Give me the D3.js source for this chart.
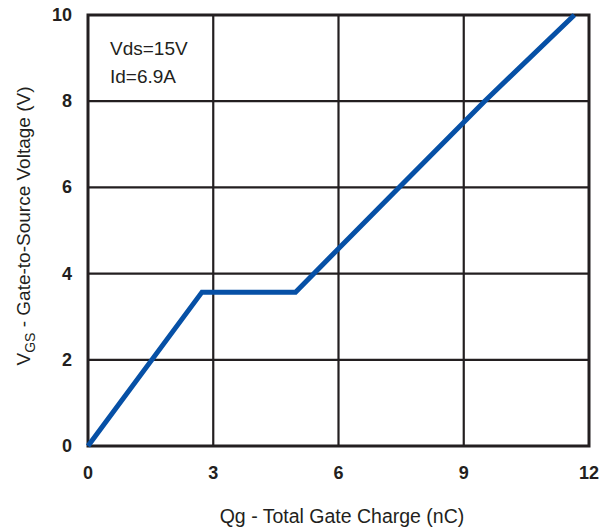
<!DOCTYPE html>
<html lang="en">
<head>
<meta charset="utf-8">
<script src="https://d3js.org/d3.v7.min.js"></script>
<style>
  body { margin: 0; background: #fff; }
  text { font-family: "Liberation Sans", Arial, sans-serif; fill: #231f20; }
</style>
</head>
<body>
<script>
// gate charge curve (nC, V)
var qg = [0, 2.73, 4.97, 7.45, 9.5, 11.65];
var vgs = [0, 3.57, 3.57, 6, 8, 10];
var xTicks = [0, 3, 6, 9, 12];
var yTicks = [0, 2, 4, 6, 8, 10];
var notes = ["Vds=15V", "Id=6.9A"];

var width = 603, height = 532;
var margin = { left: 88, right: 14, top: 15, bottom: 86 };

var svg = d3.select("body").append("svg")
    .attr("width", width)
    .attr("height", height);

var x = d3.scaleLinear().domain([0, 12]).range([margin.left, width - margin.right]);
var y = d3.scaleLinear().domain([0, 10]).range([height - margin.bottom, margin.top]);

// grid
svg.append("g").selectAll("line")
    .data(xTicks.slice(1, -1))
    .enter().append("line")
    .attr("x1", function (d) { return x(d); })
    .attr("x2", function (d) { return x(d); })
    .attr("y1", y(0)).attr("y2", y(10))
    .attr("stroke", "#231f20").attr("stroke-width", 2.2);

svg.append("g").selectAll("line")
    .data(yTicks.slice(1, -1))
    .enter().append("line")
    .attr("y1", function (d) { return y(d); })
    .attr("y2", function (d) { return y(d); })
    .attr("x1", x(0)).attr("x2", x(12))
    .attr("stroke", "#231f20").attr("stroke-width", 2.2);

// frame
svg.append("rect")
    .attr("x", x(0)).attr("y", y(10))
    .attr("width", x(12) - x(0)).attr("height", y(0) - y(10))
    .attr("fill", "none").attr("stroke", "#231f20").attr("stroke-width", 3);

// curve
var pts = qg.map(function (d, i) { return [d, vgs[i]]; });
svg.append("path")
    .datum(pts)
    .attr("fill", "none")
    .attr("stroke", "#0650a6")
    .attr("stroke-width", 5)
    .attr("stroke-linejoin", "miter")
    .attr("d", d3.line()
        .x(function (d) { return x(d[0]); })
        .y(function (d) { return y(d[1]); }));

// tick labels
svg.append("g").selectAll("text")
    .data(xTicks)
    .enter().append("text")
    .attr("x", function (d) { return x(d); })
    .attr("y", y(0) + 33)
    .attr("text-anchor", "middle")
    .style("font-size", "18px").style("font-weight", "bold")
    .text(function (d) { return d; });

svg.append("g").selectAll("text")
    .data(yTicks)
    .enter().append("text")
    .attr("x", x(0) - 16)
    .attr("y", function (d) { return y(d) + 6; })
    .attr("text-anchor", "end")
    .style("font-size", "18px").style("font-weight", "bold")
    .text(function (d) { return d; });

// notes
svg.append("g").selectAll("text")
    .data(notes)
    .enter().append("text")
    .attr("x", x(0) + 22)
    .attr("y", function (d, i) { return 55 + i * 28; })
    .style("font-size", "19px")
    .text(function (d) { return d; });

// axis titles
svg.append("text")
    .attr("x", 342)
    .attr("y", 523)
    .attr("text-anchor", "middle")
    .style("font-size", "19.5px")
    .text("Qg - Total Gate Charge (nC)");

var yt = svg.append("text")
    .attr("transform", "translate(30,226) rotate(-90)")
    .attr("text-anchor", "middle")
    .style("font-size", "19px");
yt.append("tspan").text("V");
yt.append("tspan").attr("dy", 5).style("font-size", "14px").text("GS");
yt.append("tspan").attr("dy", -5).text(" - Gate-to-Source Voltage (V)");
</script>
</body>
</html>
